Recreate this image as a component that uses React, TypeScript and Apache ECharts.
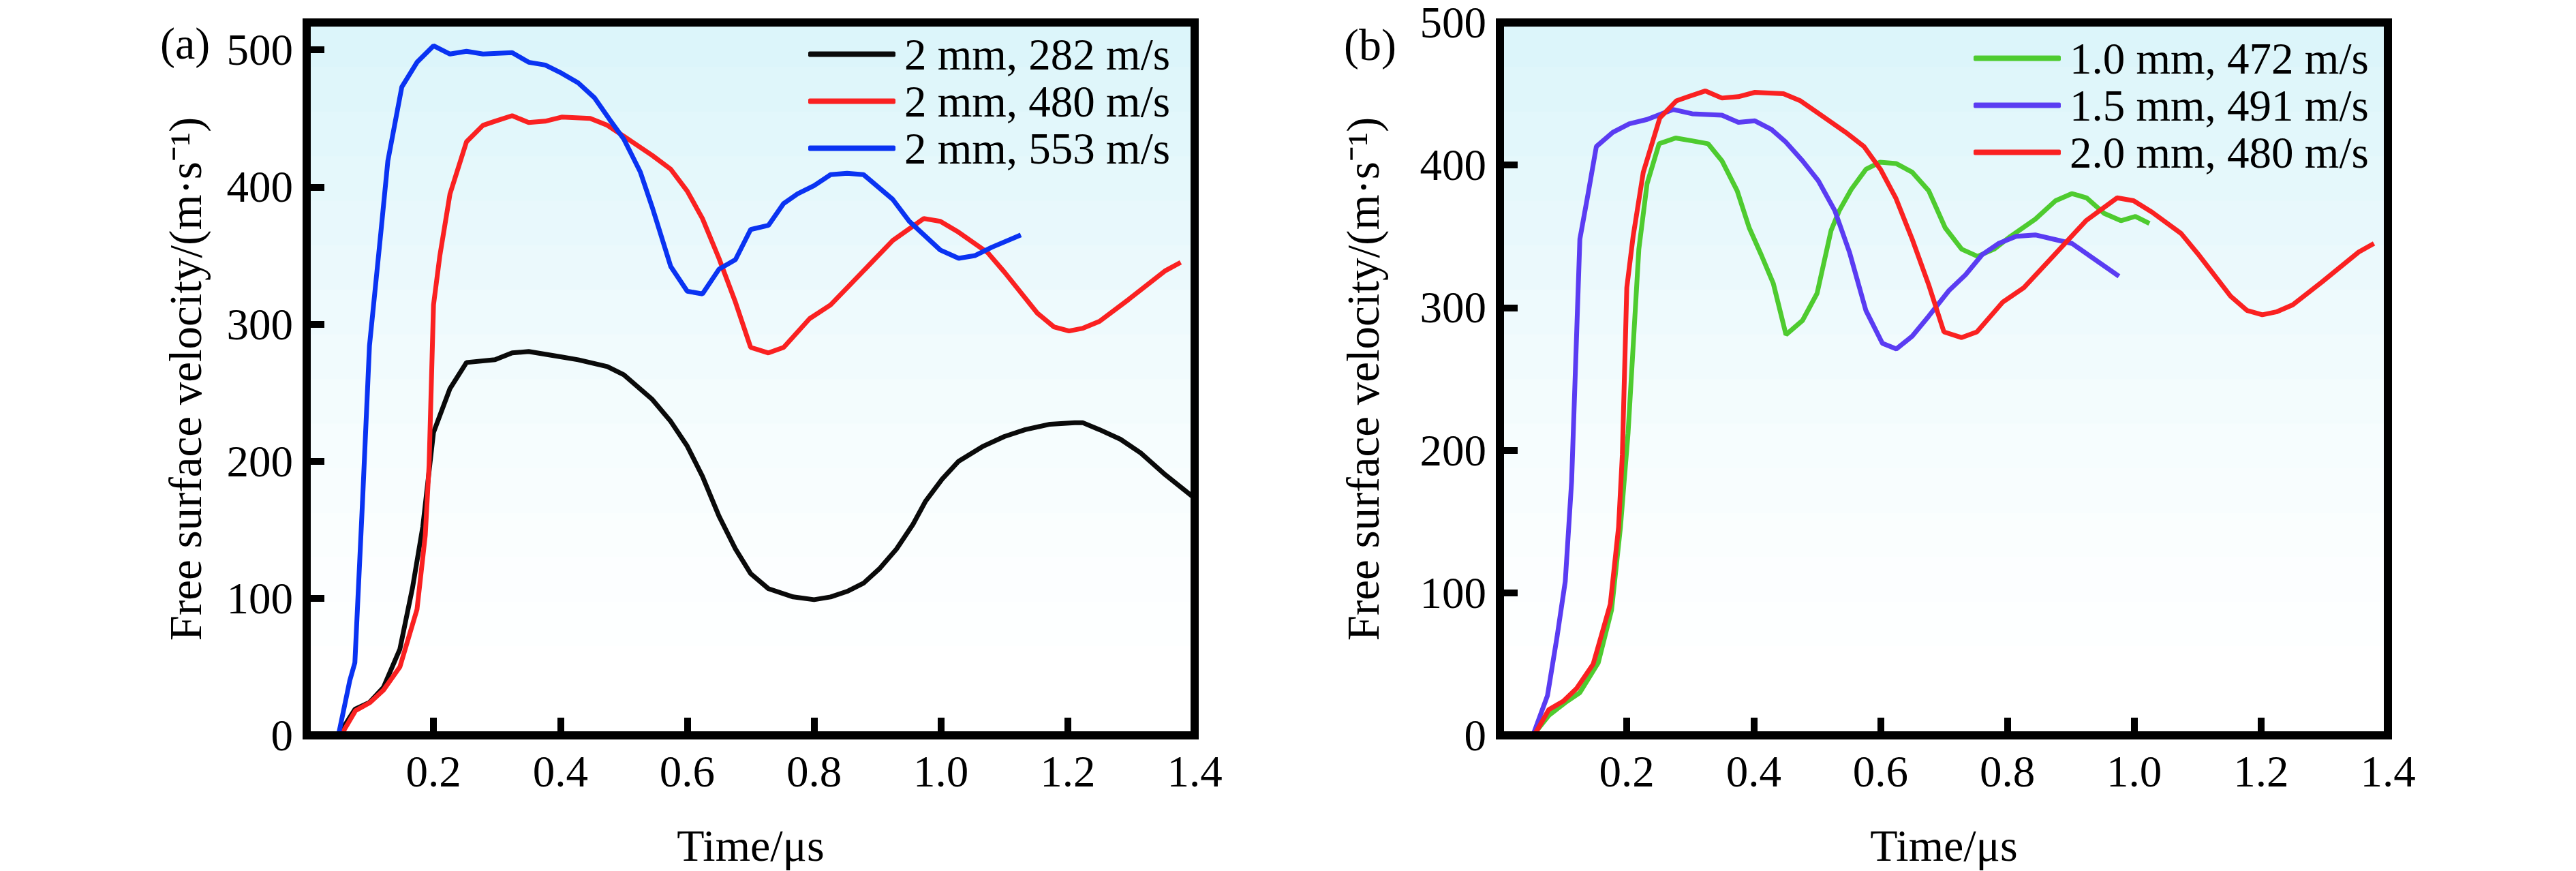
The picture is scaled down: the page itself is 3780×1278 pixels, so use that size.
import React, { useEffect, useRef } from "react";
import * as echarts from "echarts";

// ---- data (time in μs, free surface velocity in m/s) ----
const xTicks = [0.2, 0.4, 0.6, 0.8, 1.0, 1.2, 1.4];
const yTicks = [0, 100, 200, 300, 400, 500];

const nameA1 = "2 mm, 282 m/s";
const nameA2 = "2 mm, 480 m/s";
const nameA3 = "2 mm, 553 m/s";
const nameB1 = "1.0 mm, 472 m/s";
const nameB2 = "1.5 mm, 491 m/s";
const nameB3 = "2.0 mm, 480 m/s";

const black282 = [[0,0],[0.05,0],[0.076,19],[0.099,24],[0.121,35],[0.147,63],[0.167,108],[0.183,152],[0.2,221],[0.226,253],[0.252,272],[0.297,274],[0.324,279],[0.35,280],[0.402,276],[0.428,274],[0.474,269],[0.5,263],[0.545,245],[0.574,229],[0.6,211],[0.624,189],[0.65,160],[0.676,136],[0.7,118],[0.728,107],[0.767,101],[0.8,99],[0.826,101],[0.852,105],[0.878,111],[0.904,122],[0.93,136],[0.956,154],[0.976,171],[1.002,187],[1.028,200],[1.067,211],[1.1,218],[1.133,223],[1.172,227],[1.211,228],[1.224,228],[1.25,223],[1.283,216],[1.315,206],[1.354,190],[1.4,173]];

const red480 = [[0,0],[0.054,0],[0.077,18],[0.1,24],[0.121,33],[0.147,50],[0.174,92],[0.187,146],[0.193,197],[0.2,314],[0.21,350],[0.226,395],[0.252,433],[0.278,445],[0.297,448],[0.324,452],[0.35,447],[0.376,448],[0.402,451],[0.447,450],[0.474,445],[0.5,437],[0.545,423],[0.574,413],[0.6,397],[0.624,377],[0.65,348],[0.676,316],[0.7,283],[0.728,279],[0.752,283],[0.793,304],[0.826,314],[0.872,336],[0.924,361],[0.973,377],[0.999,375],[1.028,367],[1.074,352],[1.1,338],[1.152,308],[1.178,298],[1.202,295],[1.224,297],[1.25,302],[1.296,318],[1.354,339],[1.378,345]];

const blue553 = [[0,0],[0.05,0],[0.068,40],[0.076,53],[0.088,170],[0.099,284],[0.117,367],[0.128,419],[0.15,473],[0.174,491],[0.2,503],[0.226,497],[0.252,499],[0.278,497],[0.324,498],[0.35,491],[0.376,489],[0.402,483],[0.428,476],[0.454,465],[0.478,449],[0.5,435],[0.526,411],[0.545,385],[0.574,342],[0.6,324],[0.624,322],[0.65,340],[0.676,347],[0.7,369],[0.728,372],[0.752,388],[0.774,395],[0.8,401],[0.826,409],[0.852,410],[0.878,409],[0.924,391],[0.95,375],[0.999,354],[1.028,348],[1.054,350],[1.08,356],[1.126,365]];

const green472 = [[0,0],[0.052,0],[0.077,14],[0.103,23],[0.126,30],[0.155,51],[0.176,88],[0.19,146],[0.202,212],[0.219,341],[0.232,387],[0.251,415],[0.277,419],[0.303,417],[0.328,415],[0.35,403],[0.374,382],[0.393,356],[0.412,337],[0.431,317],[0.451,281],[0.477,291],[0.5,310],[0.522,354],[0.535,368],[0.554,383],[0.577,397],[0.599,402],[0.625,401],[0.65,395],[0.676,382],[0.702,356],[0.728,341],[0.753,336],[0.779,341],[0.805,350],[0.844,362],[0.876,375],[0.902,380],[0.925,377],[0.953,366],[0.979,361],[1.002,364],[1.024,359]];

const purple491 = [[0,0],[0.052,0],[0.075,28],[0.09,69],[0.103,108],[0.113,178],[0.126,348],[0.139,380],[0.152,413],[0.178,423],[0.204,429],[0.232,432],[0.273,439],[0.303,436],[0.35,435],[0.376,430],[0.402,431],[0.428,425],[0.451,416],[0.477,403],[0.502,389],[0.528,368],[0.551,339],[0.577,298],[0.603,275],[0.625,271],[0.65,280],[0.676,294],[0.708,312],[0.734,323],[0.76,337],[0.786,345],[0.814,350],[0.844,351],[0.873,348],[0.902,345],[0.934,335],[0.976,322]];

const X_MAX = 1.4;
const Y_MAX_A = 520;
const Y_MAX_B = 500;

const FONT = "'Liberation Serif', 'Times New Roman', serif";
const INK = "#000000";
const FRAME_W = 12;
const TICK_W = 10;

function buildOption() {
  const gridCommon = { top: 33, height: 1048, width: 1303, show: false };
  const xAxisCommon = (gridIndex: number) => ({
    type: "value", gridIndex, min: 0, max: X_MAX, interval: 0.2,
    name: "Time/μs", nameLocation: "middle", nameGap: 128,
    nameTextStyle: { fontFamily: FONT, fontSize: 66, color: INK },
    axisLine: { show: true, lineStyle: { color: INK, width: FRAME_W } },
    axisTick: { show: true, inside: true, length: 26, lineStyle: { color: INK, width: TICK_W } },
    axisLabel: {
      margin: 20, fontFamily: FONT, fontSize: 65, color: INK,
      formatter: (v: number) => (xTicks.some((t) => Math.abs(t - v) < 1e-6) ? v.toFixed(1) : ""),
    },
    splitLine: { show: false },
  });
  const yAxisCommon = (gridIndex: number, max: number, gap: number) => ({
    type: "value", gridIndex, min: 0, max, interval: 100,
    name: "Free surface velocity/(m·s⁻¹)", nameLocation: "middle", nameGap: gap,
    nameTextStyle: { fontFamily: FONT, fontSize: 67, color: INK },
    axisLine: { show: true, lineStyle: { color: INK, width: FRAME_W } },
    axisTick: { show: true, inside: true, length: 26, lineStyle: { color: INK, width: TICK_W } },
    axisLabel: {
      margin: 20, fontFamily: FONT, fontSize: 65, lineHeight: 58, color: INK,
      formatter: (v: number) => (yTicks.includes(v) ? String(v) : ""),
    },
    splitLine: { show: false },
  });
  const line = (name: string, data: number[][], color: string, idx: number) => ({
    type: "line", name, data, xAxisIndex: idx, yAxisIndex: idx,
    showSymbol: false, symbol: "none", smooth: false,
    lineStyle: { color, width: 7 },
    itemStyle: { color },
  });
  const legendCommon = {
    orient: "vertical", align: "left", itemWidth: 128, itemHeight: 8, itemGap: 0,
    icon: "roundRect",
    textStyle: { fontFamily: FONT, fontSize: 65, color: INK, lineHeight: 69, padding: [0, 0, 0, 8] },
  };
  return {
    animation: false,
    grid: [
      { ...gridCommon, left: 450 },
      { ...gridCommon, left: 2201 },
    ],
    xAxis: [xAxisCommon(0), xAxisCommon(1)],
    yAxis: [yAxisCommon(0, Y_MAX_A, 145), yAxisCommon(1, Y_MAX_B, 168)],
    legend: [
      { ...legendCommon, left: 1181, top: 40, data: [nameA1, nameA2, nameA3] },
      { ...legendCommon, left: 2891, top: 46, data: [nameB1, nameB2, nameB3] },
    ],
    series: [
      line(nameA1, black282, "#0a0a0a", 0),
      line(nameA2, red480, "#fa2121", 0),
      line(nameA3, blue553, "#0a33f2", 0),
      line(nameB1, green472, "#4ecb2f", 1),
      line(nameB2, purple491, "#5a3cf2", 1),
      line(nameB3, red480, "#fa2121", 1),
    ],
  };
}

// vertical colour bands of the plot background (top to bottom)
const bgBands = ["#dcf5fa", "#dff6fa", "#e2f7fb", "#e5f8fb", "#e8f8fc", "#ebf9fc", "#eefafd", "#f1fbfd", "#f3fcfd", "#f6fdfe", "#f8fdfe", "#fafefe", "#fcfeff", "#fdffff", "#ffffff", "#ffffff"];

export default function App() {
  const ref = useRef<HTMLDivElement>(null);
  useEffect(() => {
    document.body.style.margin = "0";
    if (!ref.current) return;
    const chart = echarts.init(ref.current, undefined, { renderer: "svg" });
    chart.setOption(buildOption() as any);
    const gfx: any[] = [];
    const ymaxes = [Y_MAX_A, Y_MAX_B];
    for (let i = 0; i < 2; i++) {
      const p0 = chart.convertToPixel({ gridIndex: i } as any, [0, ymaxes[i]]) as number[];
      const p1 = chart.convertToPixel({ gridIndex: i } as any, [X_MAX, 0]) as number[];
      if (!p0 || !p1) continue;
      const w = p1[0] - p0[0];
      const h = p1[1] - p0[1];
      const n = bgBands.length;
      for (let k = 0; k < n; k++) {
        gfx.push({
          type: "rect", z: -10, silent: true,
          shape: { x: p0[0], y: p0[1] + (h * k) / n, width: w, height: h / n + 1 },
          style: { fill: bgBands[k] },
        });
      }
      gfx.push({
        type: "rect", z: 50, silent: true,
        shape: { x: p0[0], y: p0[1], width: w, height: h },
        style: { fill: null, stroke: INK, lineWidth: FRAME_W },
      });
    }
    gfx.push(
      { type: "text", left: 235, top: 30, style: { text: "(a)", font: `66px ${FONT}`, fill: INK } },
      { type: "text", left: 1972, top: 32, style: { text: "(b)", font: `66px ${FONT}`, fill: INK } },
    );
    chart.setOption({ graphic: gfx } as any);
    return () => chart.dispose();
  }, []);
  return <div ref={ref} style={{ width: 3780, height: 1278, background: "#fff" }} />;
}
